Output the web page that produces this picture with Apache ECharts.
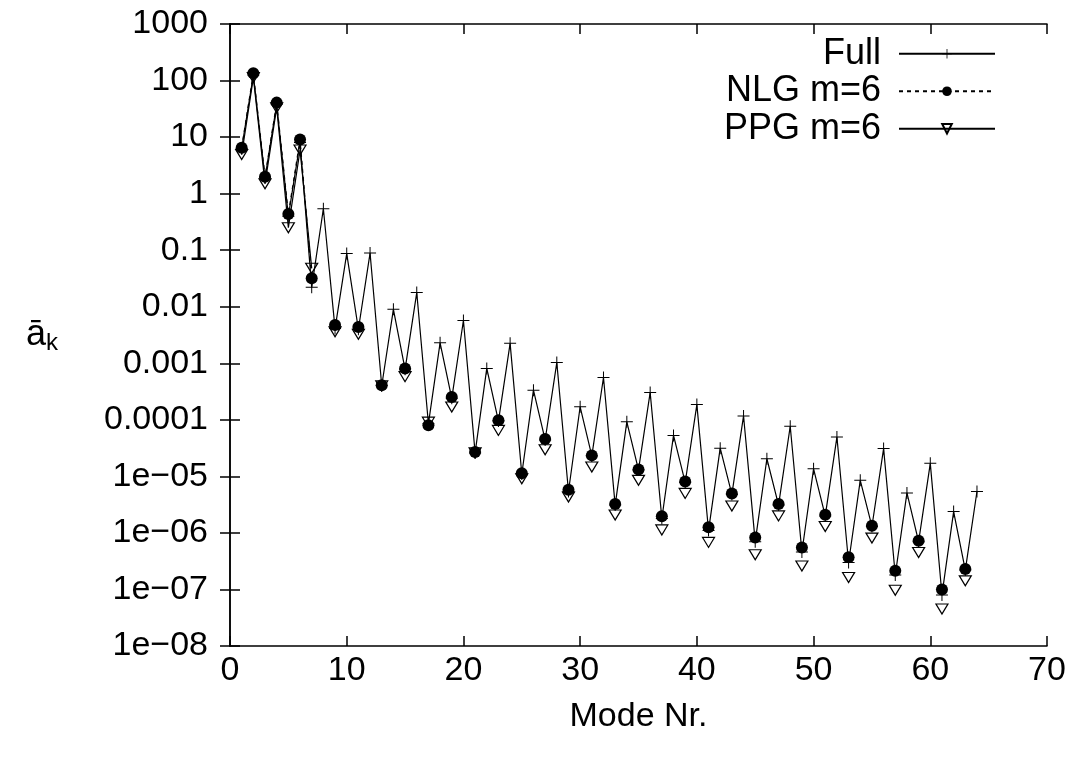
<!DOCTYPE html>
<html>
<head>
<meta charset="utf-8">
<script src="https://cdn.jsdelivr.net/npm/echarts@6/dist/echarts.min.js"></script>
<style>html,body{margin:0;padding:0;background:#fff}#c{width:1073px;height:759px}</style>
</head>
<body>
<div id="c"></div>
<script>
// Mode numbers 1..64
const modes = Array.from({length: 64}, (_, i) => i + 1);
// Full model coefficients
const fullValues = [6.3, 125, 1.9, 38, 0.40, 8, 0.022, 0.54, 0.0041, 0.087,
  0.0040, 0.089, 0.00040, 0.009, 0.00078, 0.0178, 8.5e-5, 0.0023, 2.4e-4, 0.0057,
  2.6e-5, 8.1e-4, 9.5e-5, 2.25e-3, 1.1e-5, 3.35e-4, 4.4e-5, 1.03e-3, 5.4e-6, 1.7e-4,
  2.3e-5, 5.6e-4, 3.1e-6, 9.2e-5, 1.3e-5, 3.05e-4, 1.8e-6, 5.3e-5, 7.8e-6, 1.86e-4,
  1.1e-6, 3.15e-5, 4.8e-6, 1.17e-4, 7e-7, 2.05e-5, 3.1e-6, 7.7e-5, 4.6e-7, 1.36e-5,
  2.0e-6, 4.96e-5, 3.0e-7, 8.5e-6, 1.3e-6, 3.1e-5, 1.8e-7, 5.1e-6, 7.0e-7, 1.7e-5,
  8e-8, 2.38e-6, 2.2e-7, 5.4e-6];
// NLG m=6 (null = not defined / zero)
const nlgValues = [6.5, 135, 1.98, 40.7, 0.436, 9.1, 0.032, null, 0.00475, null,
  0.0044, null, 0.00041, null, 0.00081, null, 8.0e-5, null, 2.54e-4, null,
  2.69e-5, null, 9.8e-5, null, 1.14e-5, null, 4.6e-5, null, 5.8e-6, null,
  2.35e-5, null, 3.26e-6, null, 1.32e-5, null, 1.97e-6, null, 8.1e-6, null,
  1.26e-6, null, 5.0e-6, null, 8.3e-7, null, 3.26e-6, null, 5.5e-7, null,
  2.1e-6, null, 3.7e-7, null, 1.34e-6, null, 2.14e-7, null, 7.3e-7, null,
  1.0e-7, null, 2.3e-7, null];
// PPG m=6
const ppgValues = [4.9, 113, 1.5, 33, 0.25, 5.9, 0.048, null, 0.0036, null,
  0.00325, null, 0.00040, null, 0.00058, null, 9.1e-5, null, 1.69e-4, null,
  2.6e-5, null, 6.5e-5, null, 9.1e-6, null, 2.96e-5, null, 4.3e-6, null,
  1.46e-5, null, 2.08e-6, null, 8.5e-6, null, 1.13e-6, null, 5.0e-6, null,
  6.8e-7, null, 3.0e-6, null, 4.1e-7, null, 2.0e-6, null, 2.6e-7, null,
  1.3e-6, null, 1.63e-7, null, 8.1e-7, null, 9.7e-8, null, 4.5e-7, null,
  4.5e-8, null, 1.42e-7, null];
const seriesNames = ['Full', 'NLG m=6', 'PPG m=6'];
const yTickLabels = ['1e\u221208', '1e\u221207', '1e\u221206', '1e\u221205', '0.0001', '0.001', '0.01', '0.1', '1', '10', '100', '1000'];

const toPairs = vals => modes.map((m, i) => [m, vals[i] == null ? '-' : vals[i]]);
const FONT = 'Liberation Sans';
const FS = 34;
const plusPath = 'path://M0,5.5H12V6.5H0Z M5.5,0H6.5V12H5.5Z';

const chart = echarts.init(document.getElementById('c'), null, {renderer: 'canvas'});
const axCommon = {
  axisLine: {show: true, lineStyle: {color: '#000', width: 1.5}},
  axisTick: {show: true, inside: true, length: 10, lineStyle: {color: '#000', width: 1.5}},
  splitLine: {show: false}
};
chart.setOption({
  animation: false,
  backgroundColor: '#fff',
  grid: {left: 230, right: 26, top: 24, bottom: 113, containLabel: false},
  legend: {
    orient: 'vertical', right: 72, top: 30, align: 'right',
    itemWidth: 96, itemHeight: 12, itemGap: 0,
    textStyle: {fontFamily: FONT, fontSize: 36, color: '#000', lineHeight: 37.5, padding: [0, 13, 0, 0]},
    data: seriesNames
  },
  xAxis: [
    Object.assign({type: 'value', min: 0, max: 70, interval: 10, position: 'bottom',
      name: 'Mode Nr.', nameLocation: 'middle', nameGap: 54,
      nameTextStyle: {fontFamily: FONT, fontSize: FS, color: '#000'},
      axisLabel: {fontFamily: FONT, fontSize: FS, color: '#000', margin: 8}}, axCommon),
    Object.assign({type: 'value', min: 0, max: 70, interval: 10, position: 'top',
      axisLabel: {show: false}}, axCommon)
  ],
  yAxis: [
    Object.assign({type: 'log', logBase: 10, min: 1e-8, max: 1000, interval: 1, position: 'left',
      name: '{a|ā}{k|k}', nameLocation: 'middle', nameRotate: 0, nameGap: 172,
      nameTextStyle: {rich: {a: {fontFamily: FONT, fontSize: 36, color: '#000'},
        k: {fontFamily: FONT, fontSize: 24, color: '#000', verticalAlign: 'bottom', padding: [16, 0, 0, 0]}}},
      axisLabel: {fontFamily: FONT, fontSize: FS, color: '#000', margin: 22,
        formatter: v => yTickLabels[Math.round(Math.log10(v)) + 8]}}, axCommon),
    Object.assign({type: 'log', logBase: 10, min: 1e-8, max: 1000, interval: 1, position: 'right',
      axisLabel: {show: false}}, axCommon)
  ],
  series: [
    {name: seriesNames[0], type: 'line', data: toPairs(fullValues), symbol: plusPath, symbolSize: 12,
      lineStyle: {color: '#000', width: 1.2}, itemStyle: {color: '#000'}, z: 2},
    {name: seriesNames[1], type: 'line', data: toPairs(nlgValues), symbol: 'circle', symbolSize: 12,
      connectNulls: false, lineStyle: {color: '#000', width: 1.2, type: [4, 4]}, itemStyle: {color: '#000'}, z: 3},
    {name: seriesNames[2], type: 'line', data: toPairs(ppgValues), symbol: 'triangle', symbolRotate: 180, symbolSize: [12, 10],
      connectNulls: false, lineStyle: {color: '#000', width: 1.2},
      itemStyle: {color: 'rgba(255,255,255,0)', borderColor: '#000', borderWidth: 1.2}, z: 4}
  ]
});
</script>
</body>
</html>
